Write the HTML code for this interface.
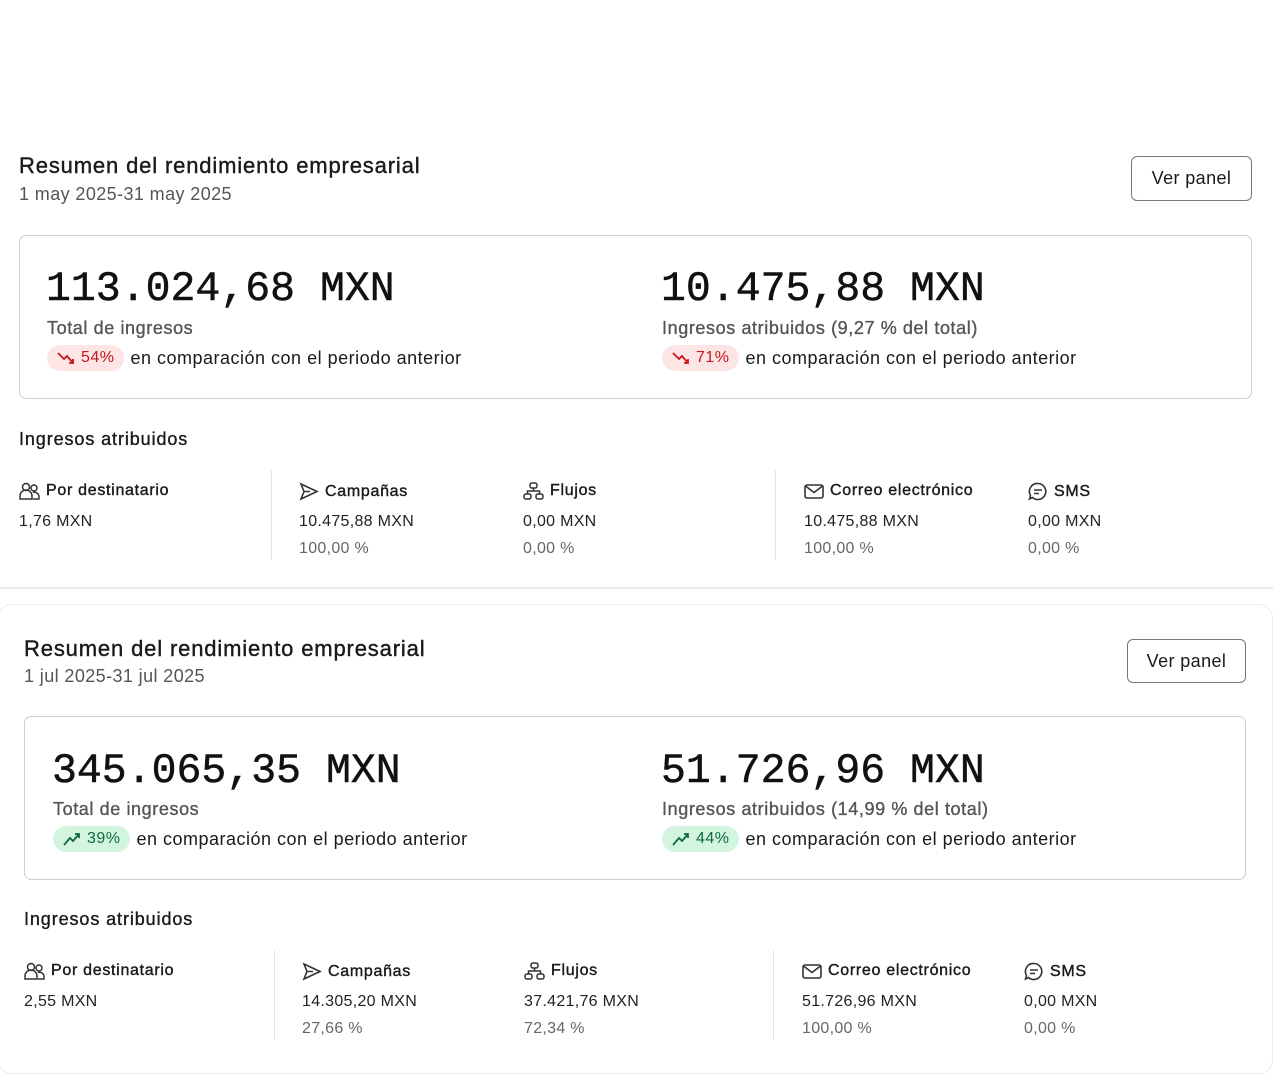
<!DOCTYPE html>
<html><head><meta charset="utf-8"><style>
*{margin:0;padding:0;box-sizing:border-box}
body{width:1273px;height:1069px;background:#fff;position:relative;overflow:hidden;font-family:"Liberation Sans",sans-serif;color:#1a1a1a}
.a{position:absolute;white-space:nowrap}
.title{font-size:22px;letter-spacing:0.85px;-webkit-text-stroke:0.4px #1a1a1a;line-height:24px}
.date{font-size:18px;letter-spacing:0.4px;color:#555;line-height:20px}
.btn{border:1.5px solid #777;border-radius:6px;font-size:18px;letter-spacing:0.4px;display:flex;align-items:center;justify-content:center;background:#fff}
.box{border:1.5px solid #c9ced8;border-radius:7px}
.big{font-family:"Liberation Mono",monospace;font-size:41.5px;line-height:44px;color:#111;-webkit-text-stroke:0.5px #111}
.lbl{font-size:18px;letter-spacing:0.6px;color:#555;-webkit-text-stroke:0.35px #555;line-height:20px}
.cmp{font-size:18px;letter-spacing:0.5px;line-height:24px;display:flex;align-items:center}
.badge{display:inline-flex;align-items:center;height:26px;border-radius:13px;padding:0 10px 0 9px;margin-right:6px;font-size:16px}
.red{background:#fde5e5;color:#c4161c}
.grn{background:#d3f5e0;color:#0f6b3a}
.sec{font-size:18px;letter-spacing:0.9px;-webkit-text-stroke:0.35px #1a1a1a;line-height:20px}
.h{font-size:16px;letter-spacing:0.7px;-webkit-text-stroke:0.4px #1a1a1a;line-height:18px;display:flex;align-items:center}
.h svg{margin-right:6px}
.v{font-size:16px;letter-spacing:0.3px;color:#222;line-height:18px}
.p{font-size:16px;letter-spacing:0.3px;color:#666;line-height:18px}
.vl{position:absolute;width:1px;background:#e3e5e8}
</style></head><body>

<!-- Section 1 -->
<div class="a title" style="left:19px;top:154px">Resumen del rendimiento empresarial</div>
<div class="a date" style="left:19px;top:184px">1 may 2025-31 may 2025</div>
<div class="a btn" style="left:1131px;top:156px;width:121px;height:45px">Ver panel</div>
<div class="a box" style="left:19px;top:235px;width:1233px;height:164px"></div>
<div class="a big" style="left:46px;top:268px">113.024,68 MXN</div>
<div class="a lbl" style="left:47px;top:318px">Total de ingresos</div>
<div class="a cmp" style="left:47px;top:345px"><span class="badge red"><svg width="20" height="16" viewBox="0 0 20 16"><path d="M2 3 L8 9 L11 6 L17 13 M13 13 L17 13 L17 9" fill="none" stroke="#c4161c" stroke-width="1.8"/></svg>&nbsp;54%</span>en comparación con el periodo anterior</div>
<div class="a big" style="left:661px;top:268px">10.475,88 MXN</div>
<div class="a lbl" style="left:662px;top:318px">Ingresos atribuidos (9,27 % del total)</div>
<div class="a cmp" style="left:662px;top:345px"><span class="badge red"><svg width="20" height="16" viewBox="0 0 20 16"><path d="M2 3 L8 9 L11 6 L17 13 M13 13 L17 13 L17 9" fill="none" stroke="#c4161c" stroke-width="1.8"/></svg>&nbsp;71%</span>en comparación con el periodo anterior</div>
<div class="a sec" style="left:19px;top:429px">Ingresos atribuidos</div>

<div class="a h" style="left:19px;top:482px"><svg width="21" height="18" viewBox="0 0 21 18" fill="none" stroke="#333" stroke-width="1.5"><circle cx="7" cy="5" r="3.5"/><path d="M1 17 v-3 a5 5 0 0 1 12 0 v3 z"/><circle cx="15" cy="6" r="3"/><path d="M14 17 h6 v-2.5 a4.5 4.5 0 0 0 -6 -4"/></svg>Por destinatario</div>
<div class="a v" style="left:19px;top:513px">1,76 MXN</div>
<div class="vl" style="left:271px;top:470px;height:90px"></div>
<div class="a h" style="left:299px;top:482px"><svg width="20" height="19" viewBox="0 0 20 19" fill="none" stroke="#333" stroke-width="1.6"><path d="M2 2 L18 9.5 L2 17 L5 9.5 Z M5 9.5 H11"/></svg>Campañas</div>
<div class="a v" style="left:299px;top:513px">10.475,88 MXN</div>
<div class="a p" style="left:299px;top:540px">100,00 %</div>
<div class="a h" style="left:523px;top:482px"><svg width="21" height="18" viewBox="0 0 21 18" fill="none" stroke="#333" stroke-width="1.5"><rect x="7" y="1" width="7" height="5" rx="2"/><rect x="1" y="12" width="7" height="5" rx="2"/><rect x="13" y="12" width="7" height="5" rx="2"/><path d="M10.5 6 v3 M4.5 12 v-3 h12 v3"/></svg>Flujos</div>
<div class="a v" style="left:523px;top:513px">0,00 MXN</div>
<div class="a p" style="left:523px;top:540px">0,00 %</div>
<div class="vl" style="left:775px;top:470px;height:90px"></div>
<div class="a h" style="left:804px;top:482px"><svg width="20" height="16" viewBox="0 0 20 16" fill="none" stroke="#333" stroke-width="1.6"><rect x="1" y="2" width="18" height="13" rx="2"/><path d="M1.5 3 L10 9.5 L18.5 3"/></svg>Correo electrónico</div>
<div class="a v" style="left:804px;top:513px">10.475,88 MXN</div>
<div class="a p" style="left:804px;top:540px">100,00 %</div>
<div class="a h" style="left:1028px;top:482px"><svg width="20" height="19" viewBox="0 0 20 19" fill="none" stroke="#333" stroke-width="1.6"><path d="M10 1.5 a8 8 0 1 1 -5.5 14 L1.5 17 L2.5 13.5 A8 8 0 0 1 10 1.5 Z M6 8 h8 M6 11.5 h5"/></svg>SMS</div>
<div class="a v" style="left:1028px;top:513px">0,00 MXN</div>
<div class="a p" style="left:1028px;top:540px">0,00 %</div>

<div class="a" style="left:0;top:587px;width:1273px;height:2px;background:#ebebeb"></div>
<div class="a" style="left:-2px;top:604px;width:1275px;height:470px;border:1.5px solid #ececec;border-radius:14px"></div>

<!-- Section 2 -->
<div class="a title" style="left:24px;top:637px">Resumen del rendimiento empresarial</div>
<div class="a date" style="left:24px;top:666px">1 jul 2025-31 jul 2025</div>
<div class="a btn" style="left:1127px;top:639px;width:119px;height:44px">Ver panel</div>
<div class="a box" style="left:24px;top:716px;width:1222px;height:164px"></div>
<div class="a big" style="left:52px;top:750px">345.065,35 MXN</div>
<div class="a lbl" style="left:53px;top:799px">Total de ingresos</div>
<div class="a cmp" style="left:53px;top:826px"><span class="badge grn"><svg width="20" height="16" viewBox="0 0 20 16"><path d="M2 14 L8 7 L11 10 L17 3 M13 3 L17 3 L17 7" fill="none" stroke="#0f6b3a" stroke-width="1.8"/></svg>&nbsp;39%</span>en comparación con el periodo anterior</div>
<div class="a big" style="left:661px;top:750px">51.726,96 MXN</div>
<div class="a lbl" style="left:662px;top:799px">Ingresos atribuidos (14,99 % del total)</div>
<div class="a cmp" style="left:662px;top:826px"><span class="badge grn"><svg width="20" height="16" viewBox="0 0 20 16"><path d="M2 14 L8 7 L11 10 L17 3 M13 3 L17 3 L17 7" fill="none" stroke="#0f6b3a" stroke-width="1.8"/></svg>&nbsp;44%</span>en comparación con el periodo anterior</div>
<div class="a sec" style="left:24px;top:909px">Ingresos atribuidos</div>

<div class="a h" style="left:24px;top:962px"><svg width="21" height="18" viewBox="0 0 21 18" fill="none" stroke="#333" stroke-width="1.5"><circle cx="7" cy="5" r="3.5"/><path d="M1 17 v-3 a5 5 0 0 1 12 0 v3 z"/><circle cx="15" cy="6" r="3"/><path d="M14 17 h6 v-2.5 a4.5 4.5 0 0 0 -6 -4"/></svg>Por destinatario</div>
<div class="a v" style="left:24px;top:993px">2,55 MXN</div>
<div class="vl" style="left:274px;top:950px;height:90px"></div>
<div class="a h" style="left:302px;top:962px"><svg width="20" height="19" viewBox="0 0 20 19" fill="none" stroke="#333" stroke-width="1.6"><path d="M2 2 L18 9.5 L2 17 L5 9.5 Z M5 9.5 H11"/></svg>Campañas</div>
<div class="a v" style="left:302px;top:993px">14.305,20 MXN</div>
<div class="a p" style="left:302px;top:1020px">27,66 %</div>
<div class="a h" style="left:524px;top:962px"><svg width="21" height="18" viewBox="0 0 21 18" fill="none" stroke="#333" stroke-width="1.5"><rect x="7" y="1" width="7" height="5" rx="2"/><rect x="1" y="12" width="7" height="5" rx="2"/><rect x="13" y="12" width="7" height="5" rx="2"/><path d="M10.5 6 v3 M4.5 12 v-3 h12 v3"/></svg>Flujos</div>
<div class="a v" style="left:524px;top:993px">37.421,76 MXN</div>
<div class="a p" style="left:524px;top:1020px">72,34 %</div>
<div class="vl" style="left:773px;top:950px;height:90px"></div>
<div class="a h" style="left:802px;top:962px"><svg width="20" height="16" viewBox="0 0 20 16" fill="none" stroke="#333" stroke-width="1.6"><rect x="1" y="2" width="18" height="13" rx="2"/><path d="M1.5 3 L10 9.5 L18.5 3"/></svg>Correo electrónico</div>
<div class="a v" style="left:802px;top:993px">51.726,96 MXN</div>
<div class="a p" style="left:802px;top:1020px">100,00 %</div>
<div class="a h" style="left:1024px;top:962px"><svg width="20" height="19" viewBox="0 0 20 19" fill="none" stroke="#333" stroke-width="1.6"><path d="M10 1.5 a8 8 0 1 1 -5.5 14 L1.5 17 L2.5 13.5 A8 8 0 0 1 10 1.5 Z M6 8 h8 M6 11.5 h5"/></svg>SMS</div>
<div class="a v" style="left:1024px;top:993px">0,00 MXN</div>
<div class="a p" style="left:1024px;top:1020px">0,00 %</div>
</body></html>
